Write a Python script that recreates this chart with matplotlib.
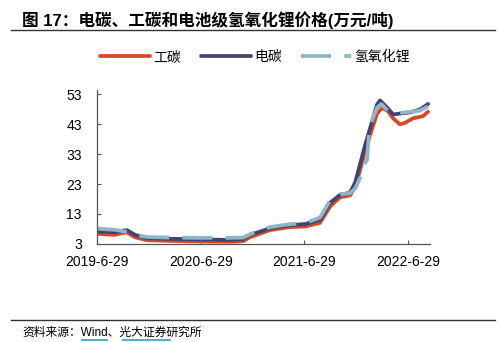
import numpy as np
import pandas as pd
import matplotlib
matplotlib.use("Agg")
import matplotlib.pyplot as plt
import matplotlib.dates as mdates
from matplotlib.lines import Line2D

plt.rcParams['font.family'] = ['Liberation Sans', 'Noto Sans CJK SC', 'DejaVu Sans']

# 工碳 (industrial-grade Li2CO3)
gt_dates = ["2019-06-29", "2019-07-27", "2019-08-31", "2019-09-25", "2019-10-13",
            "2019-11-10", "2019-12-22", "2020-03-12", "2020-06-26", "2020-10-10",
            "2020-11-25", "2020-12-19", "2021-01-24", "2021-02-28", "2021-05-09",
            "2021-07-01", "2021-08-23", "2021-09-28", "2021-11-02", "2021-12-07",
            "2021-12-25", "2022-01-11", "2022-01-29", "2022-02-23", "2022-03-12",
            "2022-03-30", "2022-04-20", "2022-05-08", "2022-06-01", "2022-06-19",
            "2022-07-17", "2022-08-21", "2022-09-08"]
gt_vals = [6.4, 6.2, 6.0, 6.6, 6.8,
           5.2, 4.2, 4.0, 3.8, 3.7,
           3.9, 5.2, 6.4, 7.6, 8.6,
           8.8, 10.0, 15.5, 18.6, 19.2,
           22.0, 27.5, 34.0, 41.5, 46.5,
           48.5, 47.4, 45.0, 43.0, 43.5,
           45.0, 45.7, 47.2]

# 电碳 (battery-grade Li2CO3)
dt_dates = ["2019-06-29", "2019-07-27", "2019-08-31", "2019-09-25", "2019-10-13",
            "2019-11-10", "2019-12-22", "2020-03-12", "2020-06-26", "2020-10-10",
            "2020-11-25", "2020-12-19", "2021-01-24", "2021-02-28", "2021-05-09",
            "2021-07-01", "2021-08-23", "2021-09-28", "2021-11-02", "2021-12-07",
            "2021-12-25", "2022-01-11", "2022-01-29", "2022-02-23", "2022-03-12",
            "2022-03-23", "2022-04-17", "2022-05-08", "2022-06-01", "2022-07-07",
            "2022-08-11", "2022-09-08"]
dt_vals = [7.1, 7.0, 6.9, 7.4, 7.6,
           6.0, 4.9, 4.7, 4.5, 4.3,
           4.6, 6.0, 7.1, 8.2, 9.3,
           9.6, 11.0, 16.8, 19.4, 20.1,
           23.5, 29.5, 36.0, 44.0, 49.6,
           51.0, 48.6, 46.3, 46.6, 47.0,
           48.0, 49.8]

# 氢氧化锂 (battery-grade LiOH)
lh_dates = ["2019-06-29", "2019-07-27", "2019-08-31", "2019-09-25", "2019-10-13",
            "2019-11-10", "2019-12-22", "2020-03-12", "2020-06-26", "2020-10-10",
            "2020-11-25", "2020-12-19", "2021-01-24", "2021-02-28", "2021-05-09",
            "2021-07-01", "2021-08-23", "2021-09-28", "2021-11-02", "2021-12-07",
            "2021-12-25", "2022-01-11", "2022-01-29", "2022-02-05", "2022-02-12",
            "2022-02-23", "2022-03-12", "2022-03-27", "2022-04-20", "2022-06-01",
            "2022-07-07", "2022-08-11", "2022-09-08"]
lh_vals = [8.1, 7.9, 7.7, 7.3, 7.0,
           6.0, 5.3, 5.1, 5.0, 5.0,
           5.1, 6.2, 7.5, 8.6, 9.6,
           9.9, 11.8, 17.5, 19.6, 19.9,
           21.5, 25.0, 30.0, 31.0, 40.0,
           44.5, 48.5, 49.8, 47.5, 46.8,
           47.2, 47.6, 49.0]

tick_dates = ["2019-06-29", "2020-06-29", "2021-06-29", "2022-06-29"]
tick_labels = ["2019-6-29", "2020-6-29", "2021-6-29", "2022-6-29"]
y_ticks = [3, 13, 23, 33, 43, 53]

fig = plt.figure(figsize=(5.0, 3.42), dpi=100)
ax = fig.add_axes([0.194, 0.287, 0.666, 0.450])

ax.plot(pd.to_datetime(gt_dates), gt_vals, color="#D6482A", lw=2.7,
        solid_capstyle='round', label="工碳")
ax.plot(pd.to_datetime(dt_dates), dt_vals, color="#434372", lw=2.7,
        solid_capstyle='round', label="电碳")
ax.plot(pd.to_datetime(lh_dates), lh_vals, color="#8FB6C8", lw=2.7,
        linestyle=(0, (8, 3.5)), label="氢氧化锂")

ax.set_xlim(pd.Timestamp("2019-06-29"), pd.Timestamp("2022-09-15"))
ax.set_ylim(3, 54.5)
ax.set_xticks(mdates.date2num(pd.to_datetime(tick_dates)))
ax.set_xticklabels(tick_labels)
ax.set_yticks(y_ticks)
ax.tick_params(axis='both', direction='in', length=3, labelsize=10, colors='#555555',
               labelcolor='black')
ax.tick_params(axis='x', pad=8)
ax.tick_params(axis='y', pad=11)
for s in ['top', 'right']:
    ax.spines[s].set_visible(False)
for s in ['left', 'bottom']:
    ax.spines[s].set_color('#555555')
    ax.spines[s].set_linewidth(0.9)

fig.legend(loc='center', bbox_to_anchor=(0.51, 0.833), ncol=3, frameon=False,
           fontsize=10, handlelength=3.6, handletextpad=0.25, columnspacing=1.4)

fig.text(0.044, 0.94, "图 17：电碳、工碳和电池级氢氧化锂价格(万元/吨)",
         fontsize=12, fontweight='bold', va='center', ha='left')
fig.add_artist(Line2D([0.022, 0.99], [0.912, 0.912], color='#333333', lw=1.0))
fig.add_artist(Line2D([0.022, 0.99], [0.064, 0.064], color='#333333', lw=1.0))
fig.text(0.044, 0.026, "资料来源：Wind、光大证券研究所", fontsize=8.5,
         va='center', ha='left')
# hyperlink-style underlines in the source line
fig.add_artist(Line2D([0.164, 0.214], [0.006, 0.006], color='#2AA4B4', lw=1.2))
fig.add_artist(Line2D([0.246, 0.34], [0.006, 0.006], color='#2AA4B4', lw=1.2))

fig.savefig("out.png", dpi=100)
